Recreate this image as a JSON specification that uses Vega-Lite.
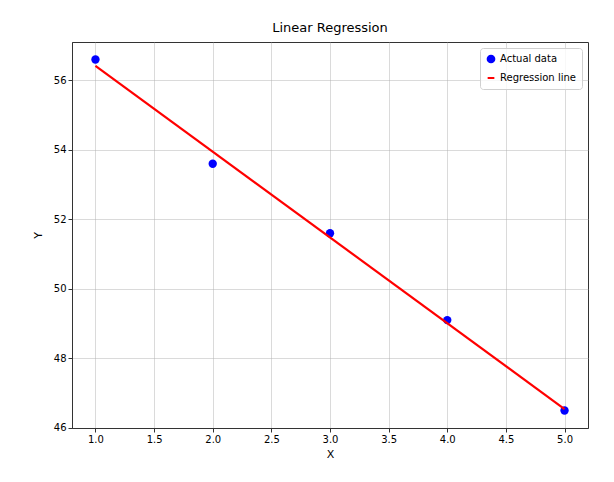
{
  "$schema": "https://vega.github.io/schema/vega-lite/v6.json",
  "width": 516,
  "height": 386,
  "autosize": "none",
  "padding": {"left": 72, "top": 42, "right": 26, "bottom": 54},
  "background": "white",
  "title": {"text": "Linear Regression", "font": "DejaVu Sans", "fontSize": 13, "fontWeight": "normal", "color": "#000", "offset": 7},
  "config": {
    "view": {"stroke": "#333", "strokeWidth": 1},
    "axis": {
      "labelFont": "DejaVu Sans", "labelFontSize": 10, "labelColor": "#000",
      "titleFont": "DejaVu Sans", "titleFontSize": 11, "titleFontWeight": "normal", "titleColor": "#000",
      "gridColor": "#b0b0b0", "gridWidth": 0.8, "gridOpacity": 0.6,
      "domainColor": "#333", "tickColor": "#333", "tickSize": 4
    }
  },
  "datasets": {
    "points": [
      {"x": 1, "y": 56.6, "series": "Actual data"},
      {"x": 2, "y": 53.6, "series": "Actual data"},
      {"x": 3, "y": 51.6, "series": "Actual data"},
      {"x": 4, "y": 49.1, "series": "Actual data"},
      {"x": 5, "y": 46.5, "series": "Actual data"}
    ],
    "line": [
      {"x": 1, "y": 56.42, "series": "Regression line"},
      {"x": 5, "y": 46.54, "series": "Regression line"}
    ]
  },
  "encoding": {
    "x": {"field": "x", "type": "quantitative", "title": "X",
      "scale": {"domain": [0.8, 5.2], "nice": false, "zero": false},
      "axis": {"values": [1, 1.5, 2, 2.5, 3, 3.5, 4, 4.5, 5], "format": ".1f", "titlePadding": 4}},
    "y": {"field": "y", "type": "quantitative", "title": "Y",
      "scale": {"domain": [45.995, 57.105], "nice": false, "zero": false},
      "axis": {"values": [46, 48, 50, 52, 54, 56], "titlePadding": 10}},
    "color": {"field": "series", "type": "nominal", "title": null,
      "scale": {"domain": ["Actual data", "Regression line"], "range": ["#0000ff", "#ff0000"]},
      "legend": {
        "orient": "top-right", "offset": 6,
        "labelFont": "DejaVu Sans", "labelFontSize": 10, "labelColor": "#000",
        "strokeColor": "#d0d0d0", "fillColor": "rgba(255,255,255,0.8)", "cornerRadius": 3,
        "padding": 6, "rowPadding": 6, "symbolSize": 45, "symbolStrokeWidth": 2,
        "encode": {"symbols": {"update": {"stroke": {"scale": "color", "field": "value"}, "strokeWidth": {"value": 2}}}}
      }}
  },
  "layer": [
    {"data": {"name": "points"}, "mark": {"type": "point", "filled": true, "size": 70, "opacity": 1},
      "encoding": {"shape": {"field": "series", "type": "nominal",
        "scale": {"domain": ["Actual data", "Regression line"], "range": ["circle", "stroke"]},
        "legend": null}}},
    {"data": {"name": "line"}, "mark": {"type": "line", "strokeWidth": 2.2}}
  ]
}
